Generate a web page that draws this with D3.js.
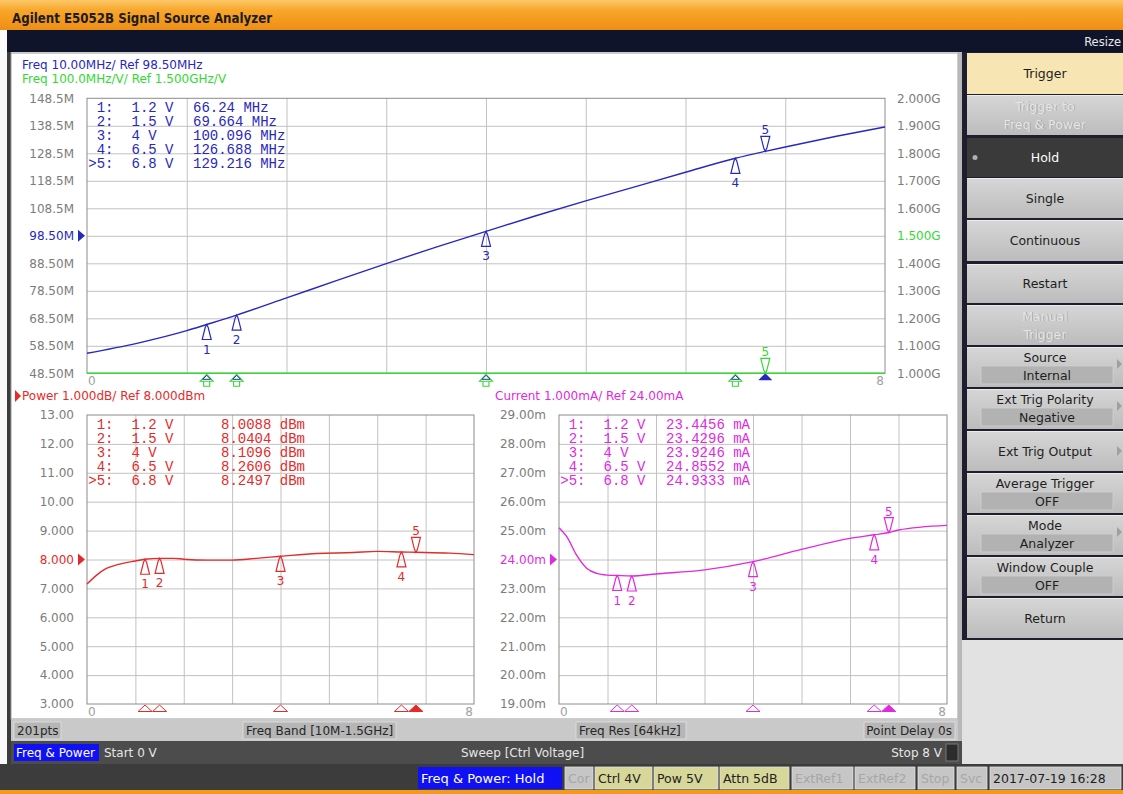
<!DOCTYPE html>
<html>
<head>
<meta charset="utf-8">
<style>
body{margin:0;background:#fff;}
svg{display:block;font-family:"DejaVu Sans",sans-serif;}
</style>
</head>
<body>
<svg id="screen" width="1123" height="794"></svg>
<script src="https://cdnjs.cloudflare.com/ajax/libs/d3/7.8.5/d3.min.js"></script>
<script>
// ---- trace data (control voltage in V) ----
const freqVolt = [0, 0.5, 1, 1.2, 1.5, 2, 2.5, 3, 3.5, 4, 4.5, 5, 5.5, 6, 6.5, 6.8, 7, 7.5, 8];
const freqMHz  = [55.8, 59.4, 64.0, 66.24, 69.66, 75.9, 82.2, 88.4, 94.4, 100.1, 105.8, 111.2, 116.4, 121.6, 126.69, 129.22, 130.8, 134.6, 138.1];
const kvVolt   = [0, 1, 2, 3, 4, 5, 6, 7, 8];
const kvMHzV   = [6.5, 10.5, 12.6, 12.3, 11.4, 10.6, 10.0, 7.9, 7.0];
const pwrVolt  = [0, 0.2, 0.4, 0.65, 1, 1.2, 1.5, 1.8, 2, 2.5, 3, 3.5, 4, 4.75, 5.5, 6, 6.5, 6.8, 7.5, 8];
const pwrDbm   = [7.15, 7.46, 7.69, 7.83, 7.95, 8.009, 8.040, 8.04, 8.01, 7.98, 7.98, 8.04, 8.11, 8.21, 8.24, 8.28, 8.26, 8.25, 8.22, 8.17];
const curVolt  = [0, 0.16, 0.36, 0.57, 0.78, 1, 1.2, 1.5, 2, 3, 4, 5, 6, 6.5, 6.8, 7, 8];
const curMA    = [25.10, 24.79, 24.16, 23.70, 23.52, 23.46, 23.446, 23.430, 23.50, 23.64, 23.925, 24.35, 24.73, 24.855, 24.933, 25.02, 25.18];

// ---- markers ----
const mkVolt  = [1.2, 1.5, 4, 6.5, 6.8];
const mkVText = ["1.2 V", "1.5 V", "4 V", "6.5 V", "6.8 V"];
const mkFreq  = [66.24, 69.664, 100.096, 126.688, 129.216];
const mkPwr   = [8.0088, 8.0404, 8.1096, 8.2606, 8.2497];
const mkCur   = [23.4456, 23.4296, 23.9246, 24.8552, 24.9333];

// ---- tick labels ----
const freqTicks  = [148.5, 138.5, 128.5, 118.5, 108.5, 98.5, 88.5, 78.5, 68.5, 58.5, 48.5];
const freqLabels = ["148.5M","138.5M","128.5M","118.5M","108.5M","98.50M","88.50M","78.50M","68.50M","58.50M","48.50M"];
const kvTicks    = [2000, 1900, 1800, 1700, 1600, 1500, 1400, 1300, 1200, 1100, 1000];
const kvLabels   = ["2.000G","1.900G","1.800G","1.700G","1.600G","1.500G","1.400G","1.300G","1.200G","1.100G","1.000G"];
const pwrTicks   = [13, 12, 11, 10, 9, 8, 7, 6, 5, 4, 3];
const pwrLabels  = ["13.00","12.00","11.00","10.00","9.000","8.000","7.000","6.000","5.000","4.000","3.000"];
const curTicks   = [29, 28, 27, 26, 25, 24, 23, 22, 21, 20, 19];
const curLabels  = ["29.00m","28.00m","27.00m","26.00m","25.00m","24.00m","23.00m","22.00m","21.00m","20.00m","19.00m"];

const BLUE = "#2828c0", GREEN = "#34d834", RED = "#e62a2a", MAG = "#e02ae0";
const GRID = "#c2c2c2", AXT = "#7c7c7c";

const svg = d3.select("#screen");
const defs = svg.append("defs");
const tg = defs.append("linearGradient").attr("id", "titleGrad").attr("x1", 0).attr("x2", 0).attr("y1", 0).attr("y2", 1);
tg.append("stop").attr("offset", "0%").attr("stop-color", "#fcc868");
tg.append("stop").attr("offset", "35%").attr("stop-color", "#f8a62a");
tg.append("stop").attr("offset", "100%").attr("stop-color", "#ee8e14");
const kg = defs.append("linearGradient").attr("id", "keyGrad").attr("x1", 0).attr("x2", 0).attr("y1", 0).attr("y2", 1);
kg.append("stop").attr("offset", "0%").attr("stop-color", "#d6d6d6");
kg.append("stop").attr("offset", "100%").attr("stop-color", "#bcbcbc");

// ---- window frame ----
svg.append("rect").attr("width", 1123).attr("height", 794).attr("fill", "#fafafa");
svg.append("rect").attr("width", 1123).attr("height", 30).attr("fill", "url(#titleGrad)");
svg.append("text").attr("x", 12).attr("y", 23).attr("font-weight", "bold").attr("font-size", 13.5)
  .attr("textLength", 260).attr("lengthAdjust", "spacingAndGlyphs").attr("fill", "#1c1c1c")
  .text("Agilent E5052B Signal Source Analyzer");
svg.append("rect").attr("x", 7).attr("y", 30).attr("width", 1116).attr("height", 22).attr("fill", "#10142a");
svg.append("text").attr("x", 1121).attr("y", 46).attr("text-anchor", "end").attr("font-size", 11.5)
  .attr("fill", "#e8e8e8").text("Resize");
svg.append("rect").attr("x", 7).attr("y", 52).attr("width", 4).attr("height", 713).attr("fill", "#3c3c3c");
svg.append("rect").attr("x", 11).attr("y", 53).attr("width", 947).attr("height", 666)
  .attr("fill", "#ffffff").attr("stroke", "#9c9c9c");
svg.append("rect").attr("x", 958).attr("y", 52).attr("width", 4).attr("height", 713).attr("fill", "#b8b8b8");

// ---- header texts ----
svg.append("text").attr("x", 22).attr("y", 69).attr("font-size", 12).attr("fill", BLUE).text("Freq 10.00MHz/ Ref 98.50MHz");
svg.append("text").attr("x", 22).attr("y", 83).attr("font-size", 12).attr("fill", GREEN).text("Freq 100.0MHz/V/ Ref 1.500GHz/V");
svg.append("path").attr("d", "M15,390 L21,396 L15,402 Z").attr("fill", RED);
svg.append("text").attr("x", 22).attr("y", 400).attr("font-size", 12).attr("fill", RED).text("Power 1.000dB/ Ref 8.000dBm");
svg.append("text").attr("x", 495).attr("y", 400).attr("font-size", 12).attr("fill", MAG).text("Current 1.000mA/ Ref 24.00mA");

function upGlyph(g, x, y, color) {
  g.append("path").attr("d", `M${x},${y} L${x - 1.5},${y + 3} L${x - 4.5},${y + 15} L${x + 4.5},${y + 15} L${x + 1.5},${y + 3} Z`)
    .attr("fill", "none").attr("stroke", color).attr("stroke-width", 1.2);
}
function downGlyph(g, x, y, color) {
  g.append("path").attr("d", `M${x},${y} L${x - 1.5},${y - 3} L${x - 4.5},${y - 15} L${x + 4.5},${y - 15} L${x + 1.5},${y - 3} Z`)
    .attr("fill", "none").attr("stroke", color).attr("stroke-width", 1.2);
}

function drawPanel(p) {
  const x = d3.scaleLinear().domain([0, 8]).range([p.x0, p.x1]);
  const y = d3.scaleLinear().domain(p.domain).range([p.y1, p.y0]);
  const g = svg.append("g");

  // grid
  g.append("g").attr("transform", `translate(0,${p.y1})`)
    .call(d3.axisBottom(x).tickValues(d3.range(1, 8)).tickSize(-(p.y1 - p.y0)).tickFormat(""))
    .call(a => { a.select(".domain").remove(); a.selectAll("line").attr("stroke", GRID); });
  g.append("g").attr("transform", `translate(${p.x0},0)`)
    .call(d3.axisLeft(y).tickValues(p.ticks.slice(1, -1)).tickSize(-(p.x1 - p.x0)).tickFormat(""))
    .call(a => { a.select(".domain").remove(); a.selectAll("line").attr("stroke", GRID); });
  g.append("rect").attr("x", p.x0).attr("y", p.y0).attr("width", p.x1 - p.x0).attr("height", p.y1 - p.y0)
    .attr("fill", "none").attr("stroke", "#8c8c8c");

  // left labels
  g.append("g").attr("transform", `translate(${p.x0},0)`)
    .call(d3.axisLeft(y).tickValues(p.ticks).tickSize(0).tickPadding(13).tickFormat((d, i) => p.labels[i]))
    .call(a => {
      a.select(".domain").remove();
      a.attr("font-family", null).attr("font-size", null);
      a.selectAll("text").attr("font-size", 12).attr("fill", d => d === p.ref ? p.color : AXT);
    });
  const ry = y(p.ref);
  g.append("path").attr("d", `M${p.x0 - 9},${ry - 6} L${p.x0 - 2},${ry} L${p.x0 - 9},${ry + 6} Z`).attr("fill", p.color);

  g.append("text").attr("x", x(0) + 1).attr("y", p.y1 + 12).attr("font-size", 12).attr("fill", "#a0a0a0").text("0");
  g.append("text").attr("x", x(8) - 1).attr("y", p.y1 + 12).attr("text-anchor", "end").attr("font-size", 12).attr("fill", "#a0a0a0").text("8");

  // trace
  const line = d3.line().x(d => x(d[0])).y(d => y(d[1])).curve(d3.curveMonotoneX);
  g.append("path").datum(d3.zip(p.xs, p.ys)).attr("d", line)
    .attr("fill", "none").attr("stroke", p.color).attr("stroke-width", 1.4);

  // markers on trace
  mkVolt.forEach((v, i) => {
    const mx = x(v), my = y(p.mk[i]);
    if (i < 4) {
      upGlyph(g, mx, my, p.color);
      g.append("text").attr("x", mx).attr("y", my + 29).attr("text-anchor", "middle").attr("font-size", 12)
        .attr("fill", p.color).text(i + 1);
    } else {
      downGlyph(g, mx, my, p.color);
      g.append("text").attr("x", mx).attr("y", my - 17).attr("text-anchor", "middle").attr("font-size", 12)
        .attr("fill", p.color).text(i + 1);
    }
  });

  // marker table
  const tbl = g.append("g").attr("font-family", "'Liberation Mono', monospace").attr("font-size", 14).attr("fill", p.color);
  mkVolt.forEach((v, i) => {
    const ty = p.y0 + 8.7 + 14 * i;
    tbl.append("text").attr("x", p.x0 + 26.5).attr("y", ty).attr("dy", "0.36em").attr("text-anchor", "end")
      .text((i === 4 ? ">" : "") + (i + 1) + ":");
    tbl.append("text").attr("x", p.x0 + 44.5).attr("y", ty).attr("dy", "0.36em").text(mkVText[i]);
    tbl.append("text").attr("x", p.x0 + p.valCol).attr("y", ty).attr("dy", "0.36em").text(p.mk[i] + " " + p.unit);
  });

  return { g, x, y };
}

// ---- frequency panel ----
const freqPanel = drawPanel({
  x0: 87, x1: 885, y0: 98.3, y1: 373.3, domain: [48.5, 148.5], ticks: freqTicks, labels: freqLabels,
  ref: 98.5, color: BLUE, xs: freqVolt, ys: freqMHz, mk: mkFreq, unit: "MHz", valCol: 106
});
// right axis (Kv trace)
const yKv = d3.scaleLinear().domain([1000, 2000]).range([373.3, 98.3]).clamp(true);
freqPanel.g.append("g").attr("transform", "translate(885,0)")
  .call(d3.axisRight(yKv).tickValues(kvTicks).tickSize(0).tickPadding(12).tickFormat((d, i) => kvLabels[i]))
  .call(a => {
    a.select(".domain").remove();
    a.attr("font-family", null).attr("font-size", null);
    a.selectAll("text").attr("font-size", 12).attr("fill", d => d === 1500 ? GREEN : AXT);
  });
freqPanel.g.append("path").datum(d3.zip(kvVolt, kvMHzV))
  .attr("d", d3.line().x(d => freqPanel.x(d[0])).y(d => yKv(d[1])))
  .attr("fill", "none").attr("stroke", GREEN).attr("stroke-width", 1.6);
mkVolt.forEach((v, i) => {
  const mx = freqPanel.x(v), by = 373.3;
  if (i < 4) {
    freqPanel.g.append("path").attr("d", `M${mx},${by + 1} L${mx - 6.5},${by + 8} L${mx + 6.5},${by + 8} Z M${mx - 3},${by + 8} V${by + 13} H${mx + 3} V${by + 8}`)
      .attr("fill", "none").attr("stroke", GREEN).attr("stroke-width", 1.1);
    freqPanel.g.append("path").attr("d", `M${mx},${by + 2} L${mx - 4},${by + 6} L${mx + 4},${by + 6} Z`)
      .attr("fill", "none").attr("stroke", BLUE).attr("stroke-width", 1);
  } else {
    freqPanel.g.append("path").attr("d", `M${mx},${by} L${mx - 7},${by + 7} L${mx + 7},${by + 7} Z`).attr("fill", BLUE);
    downGlyph(freqPanel.g, mx, by, GREEN);
    freqPanel.g.append("text").attr("x", mx).attr("y", by - 17).attr("text-anchor", "middle").attr("font-size", 12)
      .attr("fill", GREEN).text(i + 1);
  }
});

// ---- power and current panels ----
function bottomMarks(pan, y1, color) {
  mkVolt.forEach((v, i) => {
    const mx = pan.x(v);
    pan.g.append("path").attr("d", `M${mx},${y1 + 1} L${mx - 7},${y1 + 7.5} L${mx + 7},${y1 + 7.5} Z`)
      .attr("fill", i === 4 ? color : "none").attr("stroke", color).attr("stroke-width", 1);
  });
}
const pwrPanel = drawPanel({
  x0: 87, x1: 474, y0: 415, y1: 704, domain: [3, 13], ticks: pwrTicks, labels: pwrLabels,
  ref: 8, color: RED, xs: pwrVolt, ys: pwrDbm, mk: mkPwr, unit: "dBm", valCol: 134
});
bottomMarks(pwrPanel, 704, RED);
const curPanel = drawPanel({
  x0: 559, x1: 947, y0: 415, y1: 704, domain: [19, 29], ticks: curTicks, labels: curLabels,
  ref: 24, color: MAG, xs: curVolt, ys: curMA, mk: mkCur, unit: "mA", valCol: 107
});
bottomMarks(curPanel, 704, MAG);

// ---- lower info bars ----
function box(x, y, w, h, fill, txt, tcol, size, anchor) {
  svg.append("rect").attr("x", x).attr("y", y).attr("width", w).attr("height", h).attr("fill", fill)
    .attr("stroke", "#e2e2e2").attr("stroke-width", 0.8);
  if (txt) {
    const t = svg.append("text").attr("y", y + h / 2).attr("dy", "0.36em").attr("font-size", size || 12)
      .attr("fill", tcol).text(txt);
    if (anchor === "end") t.attr("x", x + w - 3).attr("text-anchor", "end");
    else t.attr("x", x + 3);
  }
}
svg.append("rect").attr("x", 11).attr("y", 719).attr("width", 947).attr("height", 22).attr("fill", "#c9c9c9");
box(14, 722, 47, 17, "#b6b6b6", "201pts", "#262626");
box(243, 722, 153, 17, "#b6b6b6", "Freq Band [10M-1.5GHz]", "#262626");
box(576, 722, 110, 17, "#b6b6b6", "Freq Res [64kHz]", "#262626");
box(864, 722, 91, 17, "#b6b6b6", "Point Delay 0s", "#262626", 12, "end");

svg.append("rect").attr("x", 11).attr("y", 741).attr("width", 951).attr("height", 23).attr("fill", "#4c4c4c");
svg.append("rect").attr("x", 14).attr("y", 744).attr("width", 85).attr("height", 17).attr("fill", "#1010f4");
svg.append("text").attr("x", 16).attr("y", 752.5).attr("dy", "0.36em").attr("font-size", 12).attr("fill", "#fff").text("Freq & Power");
svg.append("text").attr("x", 104).attr("y", 752.5).attr("dy", "0.36em").attr("font-size", 12).attr("fill", "#e6e6e6").text("Start 0 V");
svg.append("text").attr("x", 461).attr("y", 752.5).attr("dy", "0.36em").attr("font-size", 12).attr("fill", "#e6e6e6").text("Sweep [Ctrl Voltage]");
svg.append("text").attr("x", 942).attr("y", 752.5).attr("dy", "0.36em").attr("text-anchor", "end").attr("font-size", 12).attr("fill", "#e6e6e6").text("Stop 8 V");
svg.append("rect").attr("x", 946).attr("y", 744).attr("width", 12).attr("height", 17).attr("fill", "#2c2c2c").attr("stroke", "#777");

// status bar
svg.append("rect").attr("x", 0).attr("y", 764).attr("width", 1123).attr("height", 26).attr("fill", "#3c3c3c");
svg.append("rect").attr("x", 0).attr("y", 790).attr("width", 1123).attr("height", 4).attr("fill", "#f29a1e");
svg.append("rect").attr("x", 418).attr("y", 767).attr("width", 144).attr("height", 22).attr("fill", "#1010f4");
svg.append("text").attr("x", 421).attr("y", 778).attr("dy", "0.36em").attr("font-size", 13).attr("fill", "#fff").text("Freq & Power: Hold");
box(565, 767, 28, 22, "#c6c6c6", "Cor", "#a6a6a6", 12.5);
box(595, 767, 57, 22, "#d8d79a", "Ctrl  4V", "#222", 12.5);
box(654, 767, 64, 22, "#d8d79a", "Pow  5V", "#222", 12.5);
box(720, 767, 69, 22, "#d8d79a", "Attn 5dB", "#222", 12.5);
box(792, 767, 61, 22, "#c6c6c6", "ExtRef1", "#a6a6a6", 12.5);
box(855, 767, 60, 22, "#c6c6c6", "ExtRef2", "#a6a6a6", 12.5);
box(918, 767, 36, 22, "#c6c6c6", "Stop", "#a6a6a6", 12.5);
box(957, 767, 30, 22, "#c6c6c6", "Svc", "#a6a6a6", 12.5);
box(990, 767, 131, 22, "#c6c6c6", "2017-07-19 16:28", "#1e1e1e", 12.5);

// ---- softkey panel ----
const keyLabels = [
  ["Trigger"], ["Trigger to", "Freq & Power"], ["Hold"], ["Single"], ["Continuous"], ["Restart"],
  ["Manual", "Trigger"], ["Source", "Internal"], ["Ext Trig Polarity", "Negative"], ["Ext Trig Output"],
  ["Average Trigger", "OFF"], ["Mode", "Analyzer"], ["Window Couple", "OFF"], ["Return"]
];
const keyTop    = [53, 95, 138, 178, 220, 264, 305, 347, 389, 431, 473, 515, 557, 598];
const keyBottom = [94, 135, 177, 218, 261, 303, 345, 387, 429, 471, 513, 555, 596, 638];
const keyKind   = ["title", "off", "sel", "n", "n", "n", "off", "v", "v", "n", "v", "v", "v", "n"];
const keyArrow  = [0, 0, 0, 0, 0, 0, 0, 1, 1, 1, 0, 1, 0, 0];

svg.append("rect").attr("x", 962).attr("y", 52).attr("width", 161).attr("height", 712).attr("fill", "#e2e2e2");
svg.append("rect").attr("x", 962).attr("y", 52).attr("width", 161).attr("height", 588).attr("fill", "#1e1e2e");
function keyText(x, y, txt, col, disabled) {
  if (disabled) {
    svg.append("text").attr("x", x + 0.8).attr("y", y + 0.8).attr("dy", "0.36em").attr("text-anchor", "middle")
      .attr("font-size", 12.5).attr("fill", "#9c9c9c").text(txt);
  }
  svg.append("text").attr("x", x).attr("y", y).attr("dy", "0.36em").attr("text-anchor", "middle")
    .attr("font-size", 12.5).attr("fill", col).text(txt);
}
keyLabels.forEach((lab, i) => {
  const t = keyTop[i], b = keyBottom[i], k = keyKind[i];
  const fill = k === "title" ? "#f7e5b3" : k === "sel" ? "#3a3a3a" : "url(#keyGrad)";
  svg.append("rect").attr("x", 967).attr("y", t).attr("width", 156).attr("height", b - t).attr("fill", fill);
  if (k !== "sel" && k !== "title") {
    svg.append("line").attr("x1", 967).attr("x2", 1123).attr("y1", t + 0.5).attr("y2", t + 0.5).attr("stroke", "#ececec");
  }
  const off = k === "off";
  const col = off ? "#e6e6e6" : k === "sel" ? "#ffffff" : "#1e1e1e";
  const cx = 1045;
  if (lab.length === 1) {
    keyText(cx, (t + b) / 2, lab[0], col, off);
  } else if (off) {
    keyText(cx, t + 11, lab[0], col, true);
    keyText(cx, t + 29, lab[1], col, true);
  } else {
    keyText(cx, t + 10, lab[0], col, false);
    svg.append("rect").attr("x", 981).attr("y", t + 19).attr("width", 132).attr("height", 18)
      .attr("fill", "#b2b2b2").attr("stroke", "#cfcfcf").attr("stroke-width", 0.8);
    keyText(cx + 2, t + 28, lab[1], col, false);
  }
  if (k === "sel") svg.append("circle").attr("cx", 975).attr("cy", (t + b) / 2).attr("r", 2.5).attr("fill", "#b0b0b0");
  if (keyArrow[i]) {
    const ay = lab.length === 1 ? (t + b) / 2 : t + 17;
    svg.append("path").attr("d", `M1117,${ay - 5} L1122,${ay} L1117,${ay + 5} Z`).attr("fill", "#a0a0a0");
  }
});
</script>
</body>
</html>
